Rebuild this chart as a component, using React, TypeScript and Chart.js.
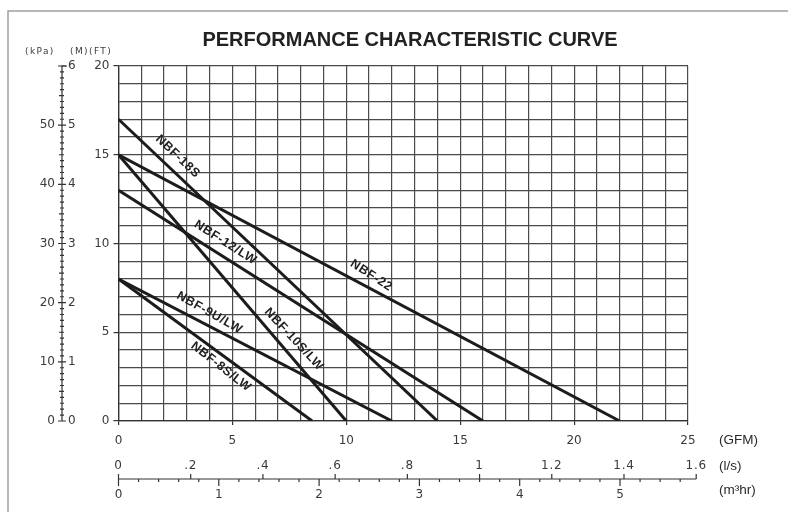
import React, { useEffect, useRef } from 'react';
import { Chart, registerables } from 'chart.js';

Chart.register(...registerables);

// ---- Data ----
const title = 'PERFORMANCE CHARACTERISTIC CURVE';
const models = ['NBF-18S', 'NBF-22', 'NBF-12/LW', 'NBF-10S/LW', 'NBF-9U/LW', 'NBF-8S/LW'];
const shutoffHeadFt = [17, 15, 13, 15, 8, 8];
const maxFlowGpm = [14, 22, 16, 10, 12, 8.5];
// label anchor (in data units) and angle for each model name
const labelFlow = [2.6, 11.1, 4.7, 7.7, 4.0, 4.5];
const labelHead = [14.9, 8.2, 10.05, 4.6, 6.1, 3.05];
const labelAngle = [43.5, 33, 32.5, 47, 29.5, 38];

const gpmMax = 25;
const ftMax = 20;
const lpsTicks = [0, 0.2, 0.4, 0.6, 0.8, 1, 1.2, 1.4, 1.6];
const lpsLabels = ['0', '.2', '.4', '.6', '.8', '1', '1.2', '1.4', '1.6'];
const m3hTicks = [0, 1, 2, 3, 4, 5];
const mTicks = [0, 1, 2, 3, 4, 5, 6];
const kpaTicks = [0, 10, 20, 30, 40, 50];

// unit conversions
const GPM_PER_LPS = 15.85;
const GPM_PER_M3H = 4.403;
const FT_PER_M = 20 / 6; // as aligned on the drawing
const M_PER_KPA = 0.1; // as aligned on the drawing

const INK = '#1c1c1c';
const GRID = '#4a4a4a';
const TXT = '#3a3a3a';
const NUM_FONT = '"DejaVu Sans", "Liberation Sans", sans-serif';

const overlay = {
  id: 'overlay',
  afterDraw(chart: any) {
    const { ctx } = chart;
    const x = chart.scales.x;
    const y = chart.scales.y;
    ctx.save();

    // outer frame
    ctx.strokeStyle = '#a0a0a0';
    ctx.lineWidth = 1.5;
    ctx.beginPath();
    ctx.moveTo(8, 512);
    ctx.lineTo(8, 11);
    ctx.lineTo(788, 11);
    ctx.stroke();

    // title
    ctx.fillStyle = '#222';
    ctx.font = 'bold 20px "Liberation Sans", Arial, sans-serif';
    ctx.textAlign = 'center';
    ctx.textBaseline = 'middle';
    ctx.fillText(title, 410, 40);

    // header units
    ctx.font = '9px ' + NUM_FONT;
    ctx.fillStyle = TXT;
    (ctx as any).letterSpacing = '1.4px';
    ctx.textAlign = 'left';
    ctx.fillText('(kPa)', 25, 52);
    ctx.fillText('(M)(FT)', 70, 52);
    (ctx as any).letterSpacing = '0px';

    // ---- left m / kPa axis ----
    const ax = 62;
    const yp = (m: number) => y.getPixelForValue(m * FT_PER_M);
    ctx.strokeStyle = '#333';
    ctx.lineWidth = 1.2;
    ctx.beginPath();
    ctx.moveTo(ax, yp(0));
    ctx.lineTo(ax, yp(6));
    ctx.lineTo(ax + 5, yp(6));
    ctx.stroke();
    ctx.beginPath();
    for (let i = 0; i <= 60; i++) {
      const m = i / 10;
      const py = yp(m);
      const major = i % 10 === 0;
      const half = i % 5 === 0;
      const l = major ? 4 : half ? 3 : 2;
      ctx.moveTo(ax - l, py);
      ctx.lineTo(ax + (major ? 4 : 2), py);
    }
    ctx.stroke();
    ctx.font = '12px ' + NUM_FONT;
    ctx.fillStyle = TXT;
    ctx.textBaseline = 'middle';
    ctx.textAlign = 'left';
    mTicks.forEach((m) => ctx.fillText(String(m), ax + 6, yp(m)));
    ctx.textAlign = 'right';
    kpaTicks.forEach((k) => ctx.fillText(String(k), ax - 7, yp(k * M_PER_KPA)));

    // ---- bottom l/s & m3/hr axis ----
    const by = 479;
    const xp = (gpm: number) => x.getPixelForValue(gpm);
    ctx.beginPath();
    ctx.moveTo(xp(0), by);
    ctx.lineTo(xp(1.6 * GPM_PER_LPS), by);
    ctx.stroke();
    ctx.beginPath();
    lpsTicks.forEach((v) => {
      const px = xp(v * GPM_PER_LPS);
      ctx.moveTo(px, by - 5);
      ctx.lineTo(px, by);
    });
    for (let i = 0; i <= 28; i++) {
      const v = i * 0.2;
      const px = xp(v * GPM_PER_M3H);
      const major = i % 5 === 0;
      ctx.moveTo(px, by);
      ctx.lineTo(px, by + (major ? 7 : 3));
    }
    ctx.stroke();
    ctx.textAlign = 'center';
    (ctx as any).letterSpacing = '0.8px';
    lpsTicks.forEach((v, i) => ctx.fillText(lpsLabels[i], xp(v * GPM_PER_LPS), 466));
    (ctx as any).letterSpacing = '0px';
    m3hTicks.forEach((v) => ctx.fillText(String(v), xp(v * GPM_PER_M3H), 495));

    // unit labels on the right
    ctx.font = '13.5px "Liberation Sans", Arial, sans-serif';
    ctx.fillStyle = '#2a2a2a';
    ctx.textAlign = 'left';
    ctx.fillText('(GFM)', 719, 440);
    ctx.fillText('(l/s)', 719, 466);
    ctx.fillText('(m³hr)', 719, 490);

    // model labels along the lines
    ctx.font = 'bold 12.5px "Liberation Sans", Arial, sans-serif';
    (ctx as any).letterSpacing = '0.6px';
    ctx.fillStyle = '#222';
    ctx.textAlign = 'center';
    models.forEach((name, i) => {
      const px = xp(labelFlow[i]);
      const py = y.getPixelForValue(labelHead[i]);
      ctx.save();
      ctx.translate(px, py);
      ctx.rotate((labelAngle[i] * Math.PI) / 180);
      ctx.fillText(name, 0, 0);
      ctx.restore();
    });
    (ctx as any).letterSpacing = '0px';

    ctx.restore();
  },
};

export default function App() {
  const ref = useRef<HTMLCanvasElement | null>(null);

  useEffect(() => {
    if (!ref.current) return;
    const datasets = models.map((name, i) => ({
      label: name,
      data: [
        { x: 0, y: shutoffHeadFt[i] },
        { x: maxFlowGpm[i], y: 0 },
      ],
      borderColor: INK,
      backgroundColor: INK,
      borderWidth: 3,
      pointRadius: 0,
      fill: false,
      tension: 0,
    }));

    const tickColor = (c: any) => (c.tick && c.tick.value % 5 === 0 ? '#333' : 'rgba(0,0,0,0)');

    const chart = new Chart(ref.current, {
      type: 'line',
      data: { datasets },
      plugins: [overlay],
      options: {
        responsive: false,
        animation: false,
        devicePixelRatio: 1,
        layout: { padding: { top: 66, right: 100, bottom: 0, left: 0 } },
        plugins: {
          legend: { display: false },
          title: { display: false },
          tooltip: { enabled: false },
        },
        scales: {
          x: {
            type: 'linear',
            min: 0,
            max: gpmMax,
            afterFit: (s: any) => {
              s.height = 91;
            },
            ticks: {
              stepSize: 1,
              autoSkip: false,
              maxRotation: 0,
              padding: 9,
              color: TXT,
              font: { family: NUM_FONT, size: 12 },
              callback: (v: any) => (Number(v) % 5 === 0 ? String(v) : ''),
            },
            grid: {
              color: GRID,
              lineWidth: 1.2,
              tickLength: 4,
              tickColor,
            },
            border: { color: '#333', width: 1.3 },
          },
          y: {
            type: 'linear',
            min: 0,
            max: ftMax,
            afterFit: (s: any) => {
              s.width = 118.5;
            },
            ticks: {
              stepSize: 1,
              autoSkip: false,
              padding: 4,
              color: TXT,
              font: { family: NUM_FONT, size: 12 },
              callback: (v: any) => (Number(v) % 5 === 0 ? String(v) : ''),
            },
            grid: {
              color: GRID,
              lineWidth: 1.2,
              tickLength: 5,
              tickColor,
            },
            border: { color: '#333', width: 1.3 },
          },
        },
      },
    });
    return () => chart.destroy();
  }, []);

  return (
    <div style={{ position: 'fixed', left: 0, top: 0, width: 788, height: 512, background: '#fff' }}>
      <canvas ref={ref} width={788} height={512} style={{ display: 'block', width: 788, height: 512 }} />
    </div>
  );
}
